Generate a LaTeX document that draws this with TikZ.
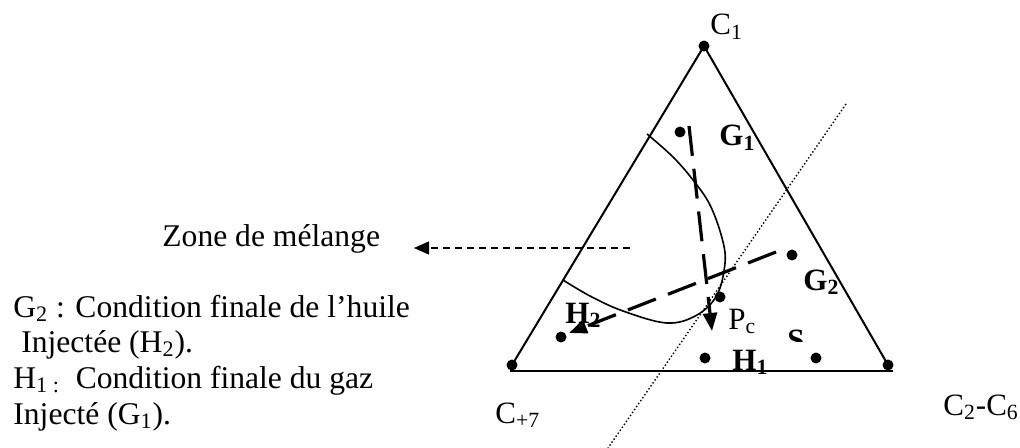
\documentclass[tikz,border=0pt]{standalone}
\usepackage{fontspec}
\setmainfont{Liberation Serif}
\usetikzlibrary{arrows.meta}
\begin{document}
\begin{tikzpicture}[x=0.5pt,y=-0.5pt,
  lbl/.style={font=\fontsize{15.5}{18}\selectfont, inner sep=0, anchor=base west},
  blbl/.style={font=\fontsize{15.5}{18}\selectfont\bfseries, inner sep=0, anchor=base west},
  txt/.style={font=\fontsize{15.8}{19}\selectfont, inner sep=0, anchor=base west},
  dot/.style={circle, fill=black, inner sep=0, minimum size=5.5pt},
  side/.style={line width=1pt},
  longdash/.style={line width=1.6pt, dash pattern=on 15pt off 6.5pt, -{Triangle[length=9pt,width=7pt]}},
  shortdash/.style={line width=0.7pt, dash pattern=on 3.5pt off 2.5pt, -{Triangle[length=7.5pt,width=6.5pt]}},
  dotline/.style={line width=0.7pt, dash pattern=on 0.7pt off 1.1pt}
]
\useasboundingbox (0,0) rectangle (1020,448);

% vertices and points
\node[dot] (C1) at (704,46) {};
\node[dot] (Lb) at (512,365) {};
\node[dot] (Rb) at (888,365) {};
\node[dot] (G1d) at (680,132) {};
\node[dot] (G2d) at (792,255) {};
\node[dot] (Pcd) at (720,297) {};
\node[dot] (H2d) at (561,337) {};
\node[dot] (H1d) at (705,358) {};
\node[dot] (Sd) at (816,358) {};

\coordinate (BL) at (510,371);
\coordinate (BR) at (893,371);

% triangle
\draw[side] (Lb.center) -- (C1.center) -- (Rb.center);
\draw[line width=1.3pt] (BL) -- (BR);

% dotted line
\coordinate (dT) at (846,104);
\coordinate (dB) at (608,448);
\draw[dotline] (dT) -- (dB);

% mixing zone boundary
\draw[line width=0.8pt] plot[smooth, tension=0.6] coordinates {(647,134) (673,157) (693,180) (710,205) (722,238) (725,263) (717,295) (697,315) (667,323) (623,311) (590,296) (563,280)};

% long dashed arrows
\coordinate (a1s) at (689,126);
\coordinate (a1e) at (712,331);
\draw[longdash] (a1s) -- (a1e);
\coordinate (a2s) at (776,252);
\coordinate (a2e) at (569,333);
\draw[longdash] (a2s) -- (a2e);

% zone arrow
\coordinate (zs) at (630,248);
\coordinate (ze) at (414,248);
\draw[shortdash] (zs) -- (ze);

% labels in triangle
\node[lbl] (lC1) at (710,35) {C\textsubscript{1}};
\node[blbl] (lG1) at (719,146) {G\textsubscript{1}};
\node[blbl] (lG2) at (803,290) {G\textsubscript{2}};
\node[blbl] (lH2) at (565,323) {H\textsubscript{2}};
\node[lbl] (lPc) at (728,329) {P\textsubscript{c}};
\begin{scope}
\clip (770,320) rectangle (820,341);
\node[blbl] (lS) at (787,350) {S};
\end{scope}
\node[blbl] (lH1) at (732,370) {H\textsubscript{1}};
\node[lbl] (lC7) at (495,423) {C\textsubscript{+7}};
\node[lbl] (lC26) at (943,415) {C\textsubscript{2}-C\textsubscript{6}};

% left text
\node[txt] (zone) at (162,247) {Zone de mélange};
\node[txt] (t1) at (13,317) {G\textsubscript{2} : Condition finale de l’huile};
\node[txt] (t2) at (13,352) {\ Injectée (H\textsubscript{2}).};
\node[txt] (t3) at (13,388) {H\textsubscript{1 :}\ \ Condition finale du gaz};
\node[txt] (t4) at (13,424) {Injecté (G\textsubscript{1}).};
\end{tikzpicture}
\end{document}
